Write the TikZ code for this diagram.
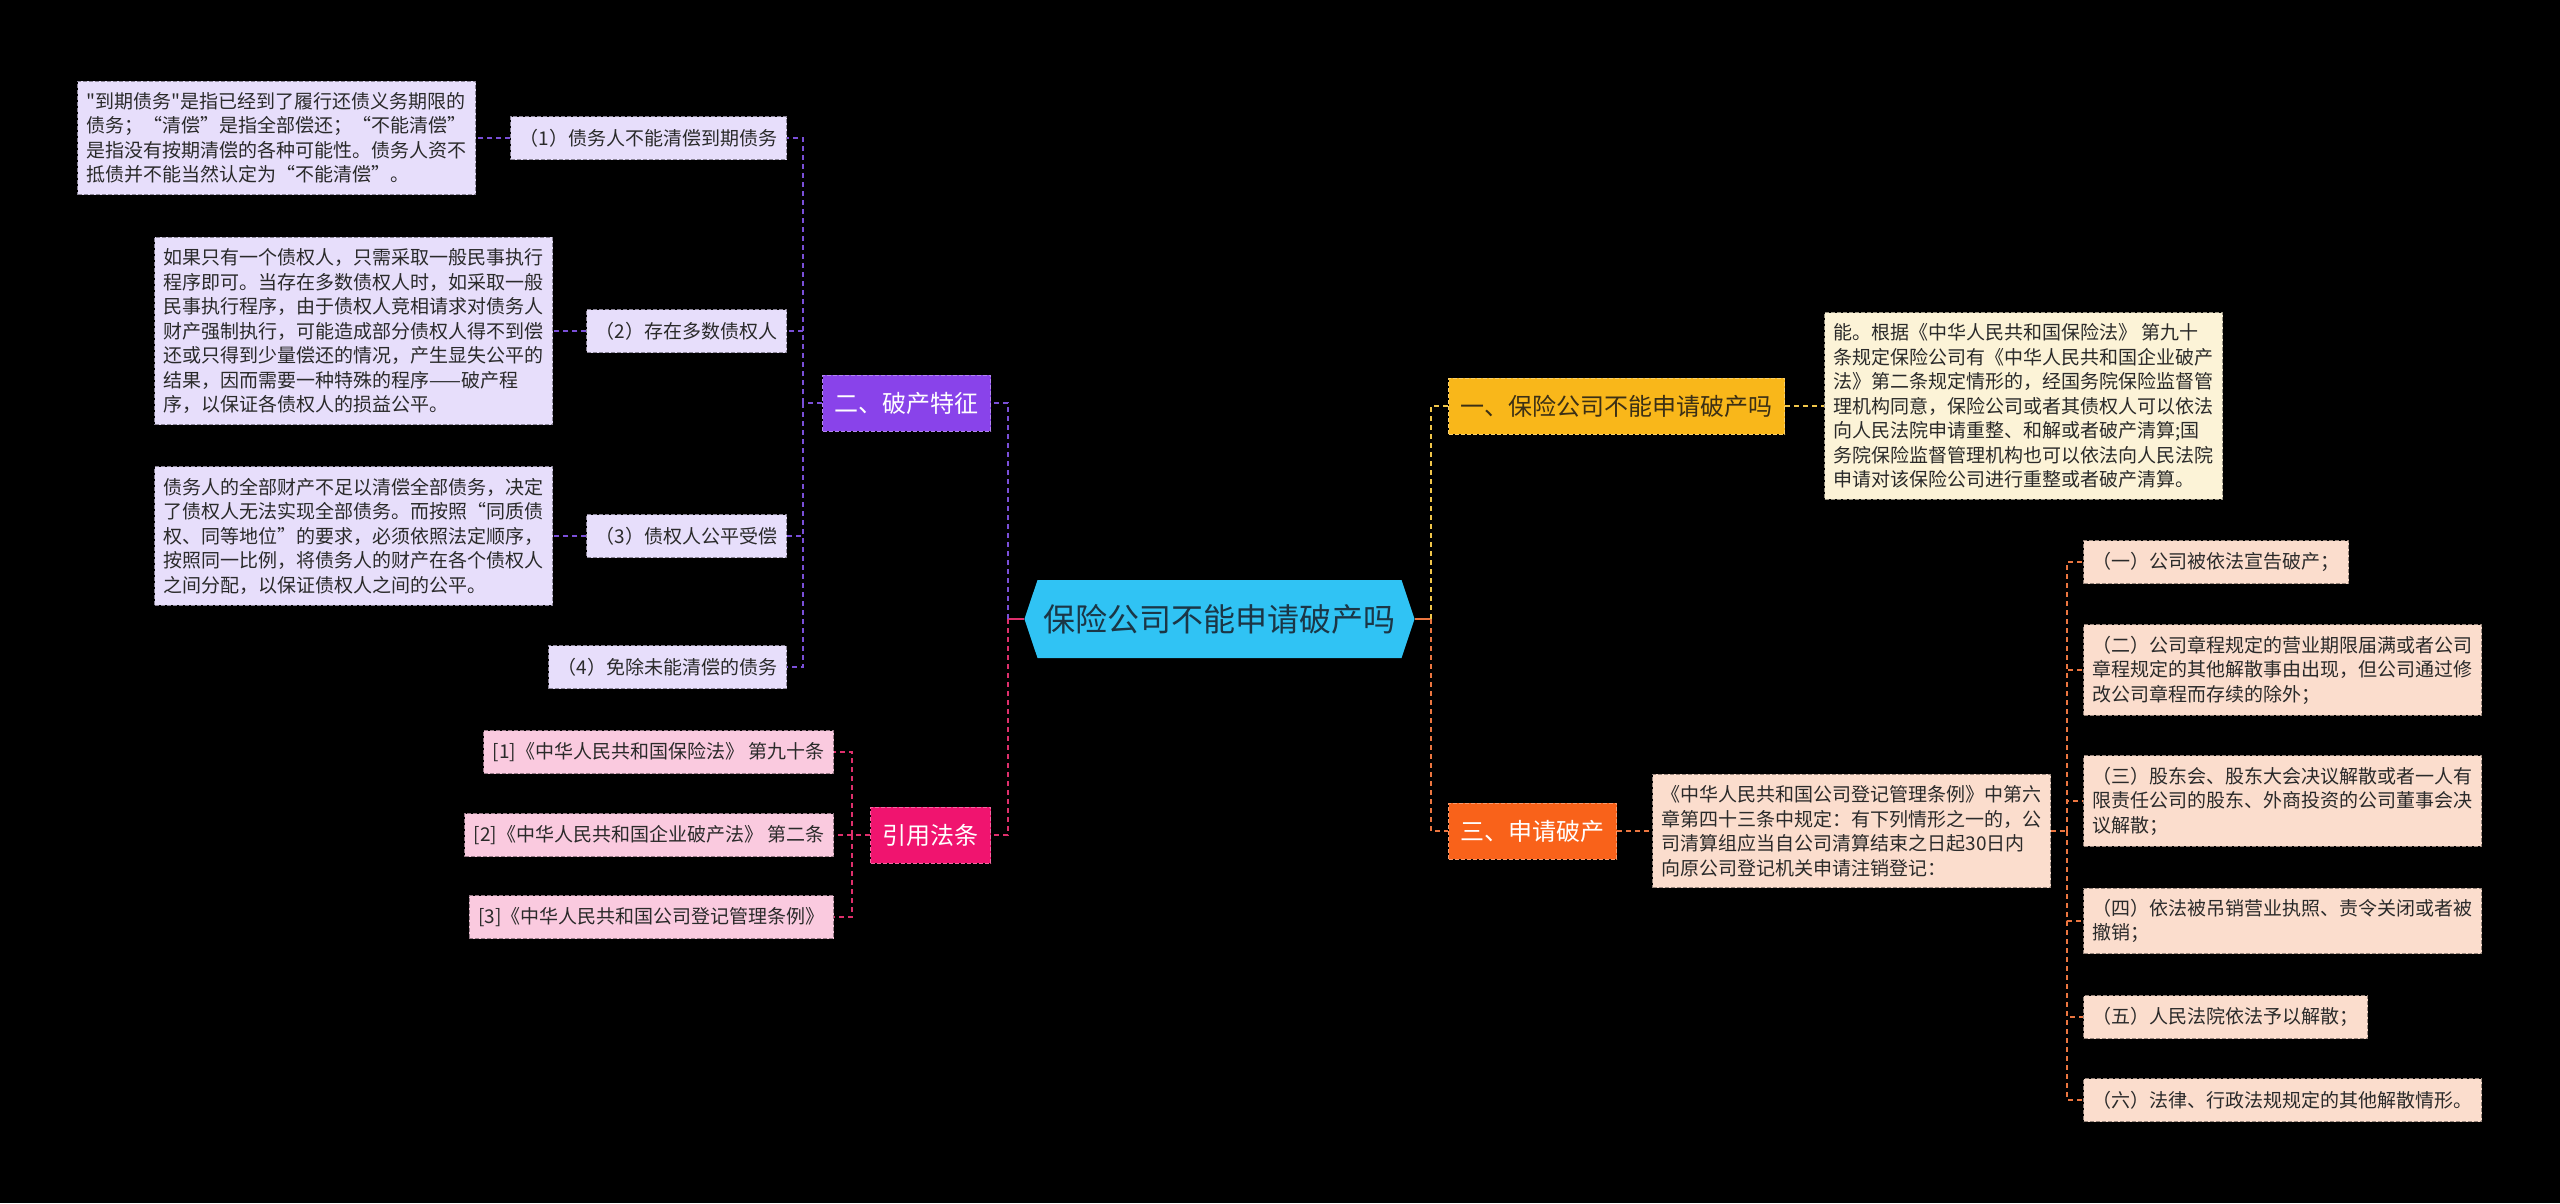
\documentclass[tikz,border=0pt]{standalone}
\usepackage{fontspec}
\setmainfont{Noto Sans CJK SC}[Ligatures=TeXOff]
\usepackage{tikz}
\usetikzlibrary{shapes.symbols}
\usepackage{xcolor}
\definecolor{rootblue}{HTML}{30C3F4}
\definecolor{rootink}{HTML}{1B3646}
\definecolor{purplefill}{HTML}{8943EA}
\definecolor{purpleline}{HTML}{7A4FD8}
\definecolor{lavender}{HTML}{E7DEFB}
\definecolor{pinkfill}{HTML}{F0146F}
\definecolor{pinkline}{HTML}{DE2F6C}
\definecolor{rosefill}{HTML}{FACADF}
\definecolor{amberfill}{HTML}{F9B71A}
\definecolor{amberline}{HTML}{F1C64A}
\definecolor{amberink}{HTML}{3B2F15}
\definecolor{creamfill}{HTML}{FCF3D7}
\definecolor{orangefill}{HTML}{F9621A}
\definecolor{orangeline}{HTML}{EC7640}
\definecolor{peachfill}{HTML}{FBDDCD}
\definecolor{leafink}{HTML}{2A2A2A}

\begin{document}
\begin{tikzpicture}[
  x=1pt, y=-1pt,
  rootbox/.style={signal, signal to=east and west, signal pointer angle=143,
                  fill=rootblue, text=rootink, inner xsep=6pt,
                  minimum height=78pt, font=\fontsize{32}{38}\selectfont},
  branchbox/.style={fill=#1, draw=#1!65!white, dash pattern=on 4pt off 2pt,
                    line width=1pt, inner xsep=12pt, minimum height=56pt,
                    font=\fontsize{24}{29}\selectfont},
  leafbox/.style={fill=#1, draw=#1!60!black, dash pattern=on 4pt off 2pt,
                  line width=1pt, inner xsep=9pt, inner ysep=11pt,
                  minimum height=43pt, align=left, text=leafink,
                  font=\fontsize{19}{24.5}\selectfont},
  linkline/.style={draw=#1, line width=2pt, dash pattern=on 5pt off 4pt},
  stemline/.style={draw=#1, line width=2.5pt},
]
  \fill[black] (0,0) rectangle (2560,1203);
  \useasboundingbox (0,0) rectangle (2560,1203);

  \node[rootbox] (root) at (1219.5,619) {保险公司不能申请破产吗};
  \coordinate (lhub) at (1008,619);
  \coordinate (rhub) at (1431,619);

  \node[branchbox=purplefill, text=white, anchor=east] (feat) at (991,403) {二、破产特征};
  \node[branchbox=pinkfill, text=white, anchor=east] (cite) at (991,835) {引用法条};
  \node[branchbox=amberfill, text=amberink, anchor=west] (canq) at (1448,406) {一、保险公司不能申请破产吗};
  \node[branchbox=orangefill, text=white, anchor=west] (apply) at (1448,831) {三、申请破产};

  \draw[stemline=pinkline] (root.west) -- (lhub);
  \draw[stemline=orangeline] (root.east) -- (rhub);
  \draw[linkline=purpleline] (lhub) |- (feat.east);
  \draw[linkline=pinkline] (lhub) |- (cite.east);
  \draw[linkline=amberline] (rhub) |- (canq.west);
  \draw[linkline=orangeline] (rhub) |- (apply.west);

  \coordinate (feathub) at (803,403);
  \node[leafbox=lavender, anchor=east] (f1) at (787,138) {（1）债务人不能清偿到期债务};
  \node[leafbox=lavender, anchor=east] (f2) at (787,331) {（2）存在多数债权人};
  \node[leafbox=lavender, anchor=east] (f3) at (787,536) {（3）债权人公平受偿};
  \node[leafbox=lavender, anchor=east] (f4) at (787,667) {（4）免除未能清偿的债务};
  \node[leafbox=lavender, anchor=east] (d1) at (476,138)
    {"到期债务"是指已经到了履行还债义务期限的\\
     债务；“清偿”是指全部偿还；“不能清偿”\\
     是指没有按期清偿的各种可能性。债务人资不\\
     抵债并不能当然认定为“不能清偿”。};
  \node[leafbox=lavender, anchor=east] (d2) at (553,331)
    {如果只有一个债权人，只需采取一般民事执行\\
     程序即可。当存在多数债权人时，如采取一般\\
     民事执行程序，由于债权人竞相请求对债务人\\
     财产强制执行，可能造成部分债权人得不到偿\\
     还或只得到少量偿还的情况，产生显失公平的\\
     结果，因而需要一种特殊的程序——破产程\\
     序，以保证各债权人的损益公平。};
  \node[leafbox=lavender, anchor=east] (d3) at (553,536)
    {债务人的全部财产不足以清偿全部债务，决定\\
     了债权人无法实现全部债务。而按照“同质债\\
     权、同等地位”的要求，必须依照法定顺序，\\
     按照同一比例，将债务人的财产在各个债权人\\
     之间分配，以保证债权人之间的公平。};

  \draw[linkline=purpleline] (feat.west) -- (feathub);
  \foreach \leaf in {f1,f2,f3,f4}
    \draw[linkline=purpleline] (feathub) |- (\leaf.east);
  \draw[linkline=purpleline] (f1.west) -- (d1.east);
  \draw[linkline=purpleline] (f2.west) -- (d2.east);
  \draw[linkline=purpleline] (f3.west) -- (d3.east);

  \coordinate (citehub) at (852,835);
  \node[leafbox=rosefill, anchor=east] (law1) at (834,752) {[1]《中华人民共和国保险法》 第九十条};
  \node[leafbox=rosefill, anchor=east] (law2) at (834,835) {[2]《中华人民共和国企业破产法》 第二条};
  \node[leafbox=rosefill, anchor=east] (law3) at (834,917) {[3]《中华人民共和国公司登记管理条例》};
  \draw[linkline=pinkline] (cite.west) -- (citehub);
  \foreach \leaf in {law1,law2,law3}
    \draw[linkline=pinkline] (citehub) |- (\leaf.east);

  \node[leafbox=creamfill, anchor=west] (answer) at (1824,406)
    {能。根据《中华人民共和国保险法》 第九十\\
     条规定保险公司有《中华人民共和国企业破产\\
     法》第二条规定情形的，经国务院保险监督管\\
     理机构同意，保险公司或者其债权人可以依法\\
     向人民法院申请重整、和解或者破产清算;国\\
     务院保险监督管理机构也可以依法向人民法院\\
     申请对该保险公司进行重整或者破产清算。};
  \draw[linkline=amberline] (canq.east) -- (answer.west);

  \node[leafbox=peachfill, anchor=west] (rule) at (1652,831)
    {《中华人民共和国公司登记管理条例》中第六\\
     章第四十三条中规定：有下列情形之一的，公\\
     司清算组应当自公司清算结束之日起30日内\\
     向原公司登记机关申请注销登记：};
  \draw[linkline=orangeline] (apply.east) -- (rule.west);

  \coordinate (rulehub) at (2067,831);
  \node[leafbox=peachfill, anchor=west] (case1) at (2083,562) {（一）公司被依法宣告破产；};
  \node[leafbox=peachfill, anchor=west] (case2) at (2083,670)
    {（二）公司章程规定的营业期限届满或者公司\\
     章程规定的其他解散事由出现，但公司通过修\\
     改公司章程而存续的除外；};
  \node[leafbox=peachfill, anchor=west] (case3) at (2083,801)
    {（三）股东会、股东大会决议解散或者一人有\\
     限责任公司的股东、外商投资的公司董事会决\\
     议解散；};
  \node[leafbox=peachfill, anchor=west] (case4) at (2083,921)
    {（四）依法被吊销营业执照、责令关闭或者被\\
     撤销；};
  \node[leafbox=peachfill, anchor=west] (case5) at (2083,1017) {（五）人民法院依法予以解散；};
  \node[leafbox=peachfill, anchor=west] (case6) at (2083,1100) {（六）法律、行政法规规定的其他解散情形。};
  \draw[linkline=orangeline] (rule.east) -- (rulehub);
  \foreach \leaf in {case1,case2,case3,case4,case5,case6}
    \draw[linkline=orangeline] (rulehub) |- (\leaf.west);
\end{tikzpicture}
\end{document}
